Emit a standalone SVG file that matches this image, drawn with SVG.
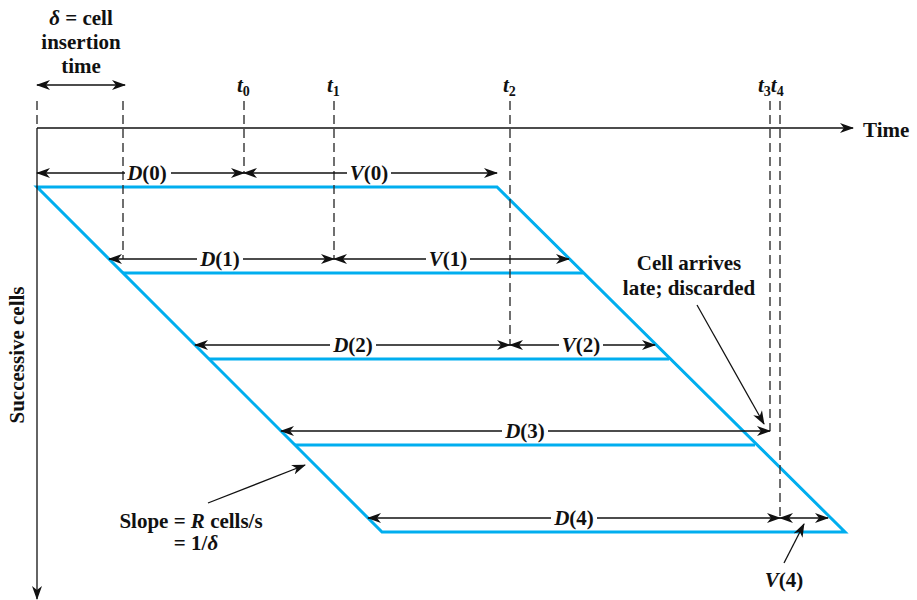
<svg xmlns="http://www.w3.org/2000/svg" width="917" height="600" viewBox="0 0 917 600" font-family="'Liberation Serif', 'Times New Roman', 'DejaVu Serif', serif" font-weight="bold" font-size="21">
<style>
text{fill:#111}
.it{font-style:italic}
.sub{font-size:14px}
.bg{fill:#fff}
.dar{stroke:#111;stroke-width:1.3;fill:none;marker-start:url(#ah);marker-end:url(#ah)}
.ear{stroke:#111;stroke-width:1.3;fill:none;marker-end:url(#ah)}
.dash{stroke:#333;stroke-width:1.4;stroke-dasharray:9 5;fill:none}
.cell{stroke:#00AEEF;stroke-width:3;fill:none}
</style>
<defs>
<marker id="ah" viewBox="0 0 14 10" refX="13" refY="5" markerWidth="14" markerHeight="10" markerUnits="userSpaceOnUse" orient="auto-start-reverse">
<path d="M0,0 L14,5 L0,10 L4,5 Z" fill="#111"/>
</marker>
</defs>
<rect width="917" height="600" fill="#fff"/>

<g id="cells">
<polygon class="cell" points="37,187 497,187 845,532 382,532"/>
<line class="cell" x1="123" y1="273" x2="583" y2="273"/>
<line class="cell" x1="209" y1="359" x2="669" y2="359"/>
<line class="cell" x1="295" y1="445" x2="755" y2="445"/>
</g>

<g id="axes">
<line class="ear" x1="37" y1="128" x2="853" y2="128"/>
<line class="ear" x1="37" y1="128" x2="37" y2="599"/>
<text x="863" y="137">Time</text>
<text transform="translate(24,355) rotate(-90)" text-anchor="middle">Successive cells</text>
</g>

<g id="time-marks">
<line class="dash" x1="37" y1="101" x2="37" y2="128"/>
<line class="dash" x1="123" y1="101" x2="123" y2="259"/>
<line class="dash" x1="244" y1="101" x2="244" y2="173"/>
<line class="dash" x1="334" y1="101" x2="334" y2="259"/>
<line class="dash" x1="510" y1="101" x2="510" y2="345"/>
<line class="dash" x1="770" y1="101" x2="770" y2="431"/>
<line class="dash" x1="780" y1="101" x2="780" y2="518"/>
<text x="237" y="92"><tspan class="it">t</tspan><tspan class="sub" dy="4">0</tspan></text>
<text x="327" y="92"><tspan class="it">t</tspan><tspan class="sub" dy="4">1</tspan></text>
<text x="503" y="92"><tspan class="it">t</tspan><tspan class="sub" dy="4">2</tspan></text>
<text x="758" y="92"><tspan class="it">t</tspan><tspan class="sub" dy="4">3</tspan><tspan class="it" dy="-4">t</tspan><tspan class="sub" dy="4">4</tspan></text>
</g>

<g id="delta-note">
<text x="81" y="25" text-anchor="middle"><tspan class="it">δ</tspan> = cell</text>
<text x="81" y="49" text-anchor="middle">insertion</text>
<text x="81" y="73" text-anchor="middle">time</text>
</g>

<g id="connectors">
<line class="dar" x1="37" y1="85" x2="125" y2="85"/>
<line class="dar" x1="37" y1="173" x2="244" y2="173"/>
<line class="dar" x1="244" y1="173" x2="497" y2="173"/>
<line class="dar" x1="109" y1="259" x2="334" y2="259"/>
<line class="dar" x1="334" y1="259" x2="569" y2="259"/>
<line class="dar" x1="195" y1="345" x2="510" y2="345"/>
<line class="dar" x1="510" y1="345" x2="655" y2="345"/>
<line class="dar" x1="281" y1="431" x2="770" y2="431"/>
<line class="dar" x1="368" y1="518" x2="780" y2="518"/>
<line class="dar" x1="780" y1="518" x2="828" y2="518"/>
<line class="ear" x1="208" y1="503" x2="305" y2="465"/>
<line class="ear" x1="697" y1="305" x2="764" y2="424"/>
<line class="ear" x1="784" y1="563" x2="804" y2="524"/>
</g>

<g id="labels" text-anchor="middle">
<rect class="bg" x="125" y="164" width="46" height="18"/>
<text x="147" y="180"><tspan class="it">D</tspan>(0)</text>
<rect class="bg" x="347" y="164" width="44" height="18"/>
<text x="369" y="180"><tspan class="it">V</tspan>(0)</text>
<rect class="bg" x="197" y="250" width="46" height="18"/>
<text x="220" y="266"><tspan class="it">D</tspan>(1)</text>
<rect class="bg" x="426" y="250" width="44" height="18"/>
<text x="448" y="266"><tspan class="it">V</tspan>(1)</text>
<rect class="bg" x="330" y="336" width="46" height="18"/>
<text x="353" y="352"><tspan class="it">D</tspan>(2)</text>
<rect class="bg" x="559" y="336" width="44" height="18"/>
<text x="581" y="352"><tspan class="it">V</tspan>(2)</text>
<rect class="bg" x="502" y="422" width="46" height="18"/>
<text x="525" y="438"><tspan class="it">D</tspan>(3)</text>
<rect class="bg" x="551" y="509" width="46" height="18"/>
<text x="574" y="525"><tspan class="it">D</tspan>(4)</text>
<text x="784" y="587"><tspan class="it">V</tspan>(4)</text>
<text x="689" y="270">Cell arrives</text>
<text x="689" y="295">late; discarded</text>
<text x="191" y="528">Slope = <tspan class="it">R</tspan> cells/s</text>
<text x="196" y="550">= 1/<tspan class="it">δ</tspan></text>
</g>
</svg>
